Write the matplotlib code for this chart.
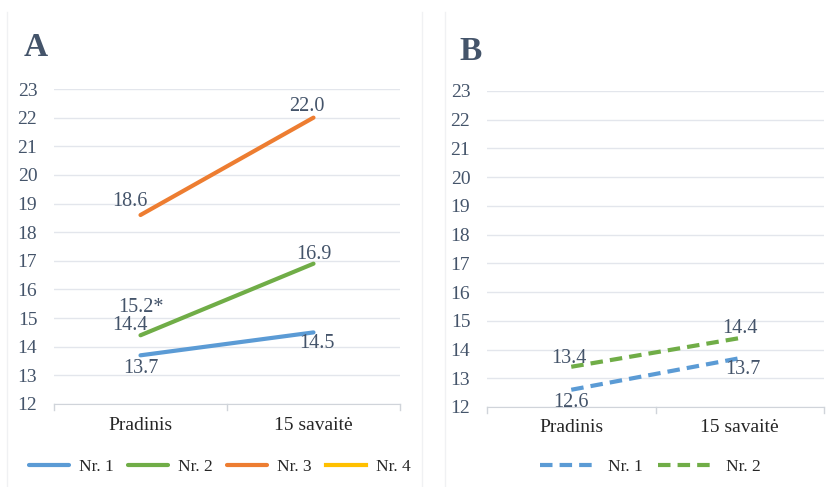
import matplotlib.pyplot as plt
from matplotlib.lines import Line2D

plt.rcParams["font.family"] = ["Liberation Serif", "DejaVu Serif"]

categories = ["Pradinis", "15 savaitė"]

# A grupė
a_names = ["Nr. 1", "Nr. 2", "Nr. 3", "Nr. 4"]
a_values = [
    [13.7, 14.5],
    [14.4, 16.9],
    [18.6, 22.0],
    [],
]
a_extra_label = (0, 15.2, "15.2*")  # papildoma reikšmė Nr. 2 pradžioje

# B grupė
b_names = ["Nr. 1", "Nr. 2"]
b_values = [
    [12.6, 13.7],
    [13.4, 14.4],
]

colors = ["#5B9BD5", "#70AD47", "#ED7D31", "#FFC000"]
TXT = "#44546A"
GRID = "#E3E6EC"
AXC = "#D0D4DA"

fig = plt.figure(figsize=(8.32, 4.87), dpi=100)

# ploni rėmeliai tarp diagramų
for xf in (7 / 832, 422 / 832, 445 / 832):
    fig.add_artist(Line2D([xf, xf], [0, 1 - 12 / 487], transform=fig.transFigure,
                          color="#F0F1F3", lw=1))

axA = fig.add_axes([54 / 832, 1 - 404 / 487, 346 / 832, 315 / 487])
axB = fig.add_axes([487 / 832, 1 - 407 / 487, 337 / 832, 316 / 487])


def style(ax):
    ax.set_xlim(-0.5, 1.5)
    ax.set_ylim(12, 23)
    ax.set_yticks(range(12, 24))
    ax.set_xticks([0, 1])
    ax.set_xticklabels(categories, fontsize=14, color="#262626")
    ax.grid(axis="y", color=GRID, lw=1)
    ax.set_axisbelow(True)
    for s in ("top", "right", "left"):
        ax.spines[s].set_visible(False)
    ax.spines["bottom"].set_color(AXC)
    ax.tick_params(axis="y", length=0, labelsize=14, labelcolor=TXT, pad=12)
    ax.tick_params(axis="x", length=0, pad=9)
    # ašies žymos kraštuose ir viduryje
    for xv in (-0.5, 0.5, 1.5):
        ax.plot([xv, xv], [12, 11.8], color=AXC, lw=1, clip_on=False)


style(axA)
style(axB)

lbl = dict(fontsize=14.5, color=TXT)

# A
handlesA = []
for i, vals in enumerate(a_values):
    if vals:
        (h,) = axA.plot([0, 1], vals, color=colors[i], lw=3, solid_capstyle="round")
    else:
        (h,) = axA.plot([], [], color=colors[i], lw=3)
    handlesA.append(h)

axA.text(0, a_values[0][0] - 0.12, f"{a_values[0][0]:.1f}", ha="center", va="top", **lbl)
axA.text(1.02, a_values[0][1] - 0.05, f"{a_values[0][1]:.1f}", ha="center", va="top", **lbl)
axA.text(0.04, a_values[1][0] + 0.0, f"{a_values[1][0]:.1f}", ha="right", va="bottom", **lbl)
axA.text(1.0, a_values[1][1] + 0.0, f"{a_values[1][1]:.1f}", ha="center", va="bottom", **lbl)
axA.text(a_extra_label[0], a_extra_label[1] - 0.15, a_extra_label[2], ha="center",
         va="bottom", **lbl)
axA.text(0.04, a_values[2][0] + 0.15, f"{a_values[2][0]:.1f}", ha="right", va="bottom", **lbl)
axA.text(0.96, a_values[2][1] + 0.05, f"{a_values[2][1]:.1f}", ha="center", va="bottom", **lbl)

fig.text(36 / 832, 1 - 47 / 487, "A", fontsize=24, fontweight="bold", color=TXT,
         ha="center", va="center")

# B
handlesB = []
for i, vals in enumerate(b_values):
    (h,) = axB.plot([0, 1], vals, color=colors[i], lw=3, ls=(0, (3, 1.7)))
    handlesB.append(h)

axB.text(0.0, b_values[0][0] - 0.12, f"{b_values[0][0]:.1f}", ha="center", va="top", **lbl)
axB.text(1.02, b_values[0][1] - 0.05, f"{b_values[0][1]:.1f}", ha="center", va="top", **lbl)
axB.text(0.09, b_values[1][0] - 0.05, f"{b_values[1][0]:.1f}", ha="right", va="bottom", **lbl)
axB.text(1.0, b_values[1][1] + 0.0, f"{b_values[1][1]:.1f}", ha="center", va="bottom", **lbl)

fig.text(471 / 832, 1 - 51 / 487, "B", fontsize=24, fontweight="bold", color=TXT,
         ha="center", va="center")

legA = axA.legend(handlesA, a_names, loc="center", bbox_to_anchor=(0.48, -63 / 315), ncol=4,
                  frameon=False, fontsize=12.5, handlelength=2.3, columnspacing=0.8,
                  handletextpad=0.6)
legB = axB.legend(handlesB, b_names, loc="center", bbox_to_anchor=(0.485, -60 / 316), ncol=2,
                  frameon=False, fontsize=12.5, handlelength=3.2, columnspacing=0.9,
                  handletextpad=0.7)
for leg in (legA, legB):
    for t in leg.get_texts():
        t.set_color("#262626")

fig.savefig("out.png", dpi=100, facecolor="white")
